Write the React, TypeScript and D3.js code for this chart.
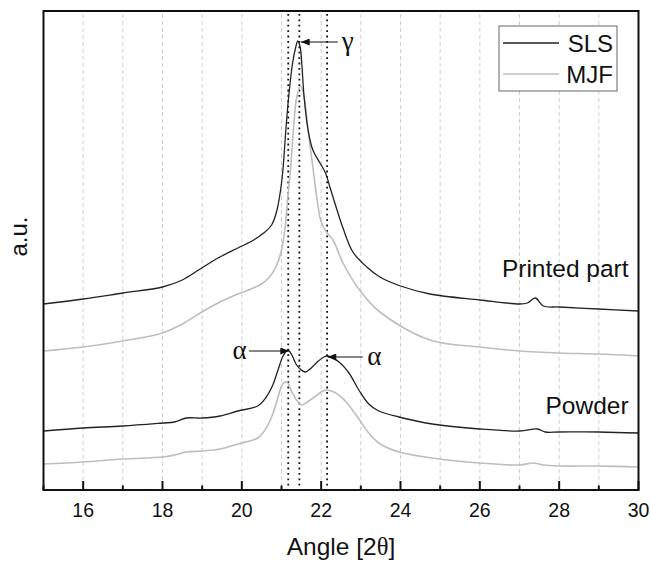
import React from "react";
import * as d3 from "d3";

// angle [2θ], intensity (a.u., arbitrary offset units)
const slsPrinted: [number, number][] = [
  [15, 186], [16, 191], [17, 197], [18, 203], [18.5, 210], [18.95, 221], [19.4, 232], [19.9, 242],
  [20.3, 250], [20.55, 257], [20.75, 265], [20.88, 279], [21.01, 310], [21.11, 360], [21.18, 393],
  [21.28, 427], [21.36, 443], [21.41, 449], [21.47, 443], [21.51, 427], [21.57, 393], [21.67, 360],
  [21.79, 340], [21.97, 327], [22.11, 317], [22.22, 303], [22.4, 280], [22.55, 262], [22.8, 238],
  [23.15, 223], [23.48, 213], [24.0, 204], [24.74, 196], [26, 190], [27, 186], [27.2, 187],
  [27.4, 192], [27.6, 184], [28, 183], [29, 181], [30, 179],
];
const mjfPrinted: [number, number][] = [
  [15, 139], [16, 143], [17, 149], [18, 157], [18.5, 166], [18.95, 177], [19.4, 187], [19.9, 196],
  [20.45, 205], [20.7, 213], [20.9, 227], [21.0, 240], [21.09, 262], [21.16, 293], [21.24, 327],
  [21.3, 360], [21.38, 392], [21.48, 404], [21.57, 393], [21.67, 360], [21.8, 320], [21.9, 290],
  [22.0, 268], [22.15, 257], [22.3, 250], [22.55, 227], [22.97, 200], [23.48, 178], [24.74, 150],
  [26, 143], [27, 139], [28, 137], [29, 136], [30, 134],
];
const slsPowder: [number, number][] = [
  [15, 59], [16, 62], [17, 64], [18, 67], [18.3, 68], [18.6, 72], [19.0, 72], [19.45, 74],
  [19.9, 79], [20.4, 84], [20.6, 92], [20.77, 104], [20.92, 121], [21.04, 134], [21.16, 140],
  [21.26, 135], [21.38, 125], [21.5, 120], [21.6, 118], [21.75, 122], [21.9, 128], [22.07, 133],
  [22.15, 134], [22.45, 128], [22.7, 117], [22.95, 100], [23.2, 86], [23.45, 79], [23.96, 73],
  [24.8, 66], [26, 61], [27, 59], [27.45, 61], [27.65, 58], [28, 58], [29, 58], [30, 57],
];
const mjfPowder: [number, number][] = [
  [15, 26], [16, 28], [17, 31], [18, 33], [18.3, 35], [18.6, 38], [19.0, 39], [19.45, 41],
  [19.9, 46], [20.4, 52], [20.6, 61], [20.77, 75], [20.92, 94], [21.03, 106], [21.13, 108],
  [21.26, 98], [21.38, 90], [21.5, 85], [21.65, 88], [21.83, 93], [22.0, 98], [22.12, 100],
  [22.37, 97], [22.63, 88], [22.88, 75], [23.2, 57], [23.45, 47], [23.96, 38], [24.8, 32],
  [26, 27], [27, 25], [27.35, 27], [27.6, 25], [28, 24], [29, 24], [30, 23],
];

const majorTicks = [16, 18, 20, 22, 24, 26, 28, 30];
const minorTicks = [15, 17, 19, 21, 23, 25, 27, 29];
const gridLines = [16, 17, 18, 19, 20, 21, 22, 23, 24, 25, 26, 27, 28, 29];
const dottedLines = [21.17, 21.45, 22.15];

const seriesNames = ["SLS", "MJF"];
const seriesColors = ["#222222", "#bdbdbd"];

// annotations: [label, tipAngle, tipValue, tailAngle, textAngle, anchor]
const arrowNotes: [string, number, number, number, number, string][] = [
  ["γ", 21.49, 448, 22.42, 22.52, "start"],
  ["α", 21.19, 139, 20.18, 20.12, "end"],
  ["α", 22.16, 133, 23.05, 23.16, "start"],
];
const textNotes: [string, number, number][] = [
  ["Printed part", 29.75, 213],
  ["Powder", 29.75, 76],
];

const W = 650, H = 563;
const L = 43.5, R = 638.5, T = 11, B = 490;

export default function App() {
  const x = d3.scaleLinear().domain([15, 30]).range([L, R]);
  const y = d3.scaleLinear().domain([0, 480]).range([B, T - 1]);
  const line = d3.line<[number, number]>().x(d => x(d[0])).y(d => y(d[1])).curve(d3.curveCatmullRom.alpha(0.5));
  const sans = "Arial, 'Liberation Sans', sans-serif";
  const serif = "'Liberation Serif', 'DejaVu Serif', serif";
  const curves: [[number, number][], number][] = [
    [mjfPrinted, 1], [mjfPowder, 1], [slsPrinted, 0], [slsPowder, 0],
  ];
  return (
    <svg width={W} height={H} style={{ position: "absolute", left: 0, top: 0, background: "#fff" }}>
      <defs>
        <marker id="ah" viewBox="0 0 10 8" refX="10" refY="4" markerWidth="11" markerHeight="7" markerUnits="userSpaceOnUse" orient="auto">
          <path d="M0,0 L10,4 L0,8 Z" fill="#111" />
        </marker>
        <clipPath id="clip"><rect x={L} y={T} width={R - L} height={B - T} /></clipPath>
      </defs>
      <rect x={0} y={0} width={W} height={H} fill="#fff" />
      {gridLines.map(g => (
        <line key={"g" + g} x1={x(g)} x2={x(g)} y1={T + 3} y2={B} stroke="#cfcfcf" strokeWidth={1} strokeDasharray="4,3" />
      ))}
      {dottedLines.map(g => (
        <line key={"d" + g} x1={x(g)} x2={x(g)} y1={T + 3} y2={B} stroke="#111" strokeWidth={1.8} strokeDasharray="1.8,3.6" />
      ))}
      <g clipPath="url(#clip)">
        {curves.map(([data, ci], i) => (
          <path key={"c" + i} d={line(data) || ""} fill="none" stroke={seriesColors[ci]} strokeWidth={ci === 0 ? 1.3 : 1.6} />
        ))}
      </g>
      {arrowNotes.map(([lab, tx, tv, ax, lx, anchor], i) => (
        <g key={"a" + i}>
          <line x1={x(ax)} y1={y(tv)} x2={x(tx)} y2={y(tv)} stroke="#111" strokeWidth={1.2} markerEnd="url(#ah)" />
          <text x={x(lx)} y={y(tv)} dy="0.3em" textAnchor={anchor} fontFamily={serif} fontSize={27} fill="#111">{lab}</text>
        </g>
      ))}
      {textNotes.map(([lab, tx, tv]) => (
        <text key={lab} x={x(tx)} y={y(tv)} textAnchor="end" fontFamily={sans} fontSize={24.5} fill="#111">{lab}</text>
      ))}
      {/* legend */}
      <rect x={499} y={26} width={118} height={65} fill="#fff" stroke="#666" strokeWidth={1} />
      {seriesNames.map((n, i) => (
        <g key={n}>
          <line x1={503} x2={559} y1={43 + i * 31} y2={43 + i * 31} stroke={seriesColors[i]} strokeWidth={1.4} />
          <text x={613} y={43 + i * 31} dy="0.36em" textAnchor="end" fontFamily={sans} fontSize={24} fill="#111">{n}</text>
        </g>
      ))}
      {/* frame */}
      <rect x={L} y={T} width={R - L} height={B - T} fill="none" stroke="#111" strokeWidth={2} />
      {majorTicks.map(t => (
        <g key={"M" + t}>
          <line x1={x(t)} x2={x(t)} y1={B} y2={B - 9} stroke="#111" strokeWidth={2} />
          <text x={x(t)} y={517} textAnchor="middle" fontFamily={sans} fontSize={19.5} fill="#111">{t}</text>
        </g>
      ))}
      {minorTicks.map(t => (
        <line key={"m" + t} x1={x(t)} x2={x(t)} y1={B} y2={B - 4.5} stroke="#111" strokeWidth={2} />
      ))}
      <text x={(L + R) / 2} y={555} textAnchor="middle" fontFamily={sans} fontSize={24.5} fill="#111">
        Angle [2<tspan fontFamily={serif}>θ</tspan>]
      </text>
      <text transform={`translate(27,${(T + B) / 2 - 14}) rotate(-90)`} textAnchor="middle" fontFamily={sans} fontSize={24} fill="#111">a.u.</text>
    </svg>
  );
}
